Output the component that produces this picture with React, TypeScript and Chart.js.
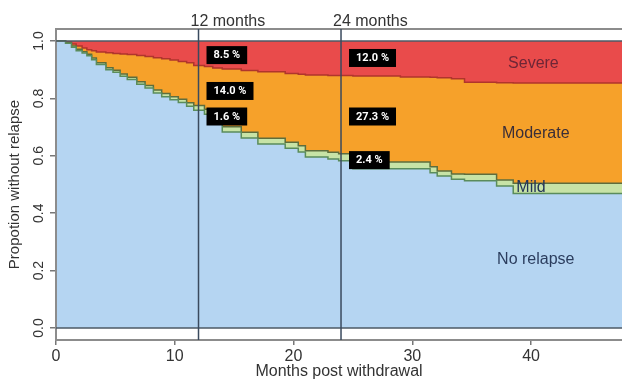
import React, { useEffect, useRef } from "react";
import { Chart, registerables } from "chart.js";

Chart.register(...registerables);

// Step times (months post withdrawal)
const months = [0, 0.8, 1.3, 1.7, 2.2, 2.6, 3.0, 3.4, 4.2, 4.8, 5.4, 6.0, 6.8, 7.5, 8.2, 8.9, 9.6, 10.3, 11.0, 11.6, 12.5, 13.2, 14.0, 15.6, 17.0, 19.3, 20.4, 21.0, 22.9, 23.8, 25.0, 29.0, 31.5, 32.1, 33.3, 34.4, 37.1, 38.5, 47.66];

// Upper boundary of each stacked band (proportion)
const noRelapseCurve = [1, 0.992, 0.978, 0.966, 0.958, 0.949, 0.935, 0.918, 0.9, 0.891, 0.877, 0.866, 0.849, 0.836, 0.819, 0.806, 0.795, 0.786, 0.773, 0.759, 0.745, 0.716, 0.683, 0.662, 0.641, 0.626, 0.613, 0.596, 0.589, 0.583, 0.555, 0.555, 0.541, 0.53, 0.518, 0.513, 0.495, 0.469, 0.469];
const mildUpper = [1, 0.995, 0.983, 0.971, 0.963, 0.954, 0.941, 0.924, 0.907, 0.898, 0.885, 0.874, 0.858, 0.845, 0.829, 0.817, 0.806, 0.797, 0.785, 0.775, 0.762, 0.734, 0.701, 0.682, 0.661, 0.647, 0.635, 0.618, 0.612, 0.607, 0.578, 0.578, 0.562, 0.547, 0.537, 0.536, 0.516, 0.504, 0.504];
const moderateUpper = [1, 0.997, 0.99, 0.983, 0.976, 0.97, 0.966, 0.962, 0.959, 0.957, 0.955, 0.953, 0.95, 0.946, 0.942, 0.938, 0.934, 0.929, 0.924, 0.915, 0.911, 0.906, 0.903, 0.897, 0.893, 0.887, 0.884, 0.882, 0.88, 0.88, 0.878, 0.875, 0.874, 0.872, 0.869, 0.856, 0.855, 0.854, 0.854];
const severeUpperMonths = [0, 47.66];
const severeUpper = [1, 1];

const xTicks = [0, 10, 20, 30, 40];
const yTicks = [0, 0.2, 0.4, 0.6, 0.8, 1.0];
const yTickLabels = ["0.0", "0.2", "0.4", "0.6", "0.8", "1.0"];

const markerMonths = [12, 24];
const markerLabels = ["12 months", "24 months"];

const pctLabels = ["8.5 %", "14.0 %", "1.6 %", "12.0 %", "27.3 %", "2.4 %"];
const pctMonths = [12, 12, 12, 24, 24, 24];
const pctLevels = [0.951, 0.826, 0.737, 0.941, 0.737, 0.585];

const regionNames = ["Severe", "Moderate", "Mild", "No relapse"];
const regionMonths = [40.2, 40.4, 40.0, 40.4];
const regionLevels = [0.923, 0.679, 0.488, 0.24];
const regionColors = ["#6e2636", "#3a2e38", "#24355a", "#2b3d5e"];

const FONT = "'Liberation Sans', Arial, sans-serif";

const pts = (xs: number[], ys: number[]) => xs.map((x, i) => ({ x, y: ys[i] }));

const overlay = {
  id: "overlay",
  afterDatasetsDraw(chart: any) {
    const { ctx, chartArea: a, scales } = chart;
    const xs = scales.x;
    const ys = scales.y;
    ctx.save();
    // frame
    ctx.strokeStyle = "#8c8c8c";
    ctx.lineWidth = 2;
    ctx.beginPath();
    ctx.moveTo(a.right + 2, a.top);
    ctx.lineTo(a.left, a.top);
    ctx.lineTo(a.left, a.bottom);
    ctx.lineTo(a.right + 2, a.bottom);
    ctx.stroke();
    // horizontal lines at 0 and 1
    ctx.strokeStyle = "#4d5864";
    ctx.lineWidth = 1.5;
    [0, 1].forEach((v) => {
      const y = ys.getPixelForValue(v);
      ctx.beginPath();
      ctx.moveTo(a.left, y);
      ctx.lineTo(a.right, y);
      ctx.stroke();
    });
    // vertical marker lines
    ctx.strokeStyle = "#3a4a5e";
    ctx.lineWidth = 1.5;
    markerMonths.forEach((m, i) => {
      const x = xs.getPixelForValue(m);
      ctx.beginPath();
      ctx.moveTo(x, a.top);
      ctx.lineTo(x, a.bottom);
      ctx.stroke();
      ctx.fillStyle = "#333";
      ctx.font = `16px ${FONT}`;
      ctx.textAlign = "left";
      ctx.textBaseline = "middle";
      ctx.fillText(markerLabels[i], x - 8, a.top - 7);
    });
    // percentage boxes
    ctx.font = `bold 11px Roboto, ${FONT}`;
    pctLabels.forEach((t, i) => {
      const x = xs.getPixelForValue(pctMonths[i]) + 8;
      const y = ys.getPixelForValue(pctLevels[i]);
      const w = ctx.measureText(t).width + 14;
      ctx.fillStyle = "#000";
      ctx.fillRect(x, y - 9, w, 18);
      ctx.fillStyle = "#fff";
      ctx.textAlign = "left";
      ctx.textBaseline = "middle";
      ctx.fillText(t, x + 7, y + 0.5);
    });
    // region labels
    ctx.font = `16px ${FONT}`;
    regionNames.forEach((t, i) => {
      ctx.fillStyle = regionColors[i];
      ctx.textAlign = "center";
      ctx.textBaseline = "middle";
      ctx.fillText(t, xs.getPixelForValue(regionMonths[i]), ys.getPixelForValue(regionLevels[i]));
    });
    // y tick labels (rotated)
    ctx.fillStyle = "#333";
    ctx.font = `14px ${FONT}`;
    yTicks.forEach((v, i) => {
      ctx.save();
      ctx.translate(a.left - 17, ys.getPixelForValue(v));
      ctx.rotate(-Math.PI / 2);
      ctx.textAlign = "center";
      ctx.textBaseline = "middle";
      ctx.fillText(yTickLabels[i], 0, 0);
      ctx.restore();
    });
    // y title
    ctx.save();
    ctx.font = `15px ${FONT}`;
    ctx.translate(15, (a.top + a.bottom) / 2);
    ctx.rotate(-Math.PI / 2);
    ctx.textAlign = "center";
    ctx.textBaseline = "middle";
    ctx.fillText("Propotion without relapse", 0, 0);
    ctx.restore();
    // x title
    ctx.font = `16px ${FONT}`;
    ctx.textAlign = "center";
    ctx.textBaseline = "middle";
    ctx.fillText("Months post withdrawal", (a.left + a.right) / 2, a.bottom + 32);
    ctx.restore();
  },
};

export default function App() {
  const ref = useRef<HTMLCanvasElement | null>(null);
  useEffect(() => {
    if (!ref.current) return;
    const common = { pointRadius: 0, stepped: true as const, tension: 0 };
    const chart = new Chart(ref.current, {
      type: "line",
      data: {
        datasets: [
          {
            ...common,
            label: "No relapse",
            data: pts(months, noRelapseCurve),
            borderColor: "#5a8c5c",
            borderWidth: 1.5,
            backgroundColor: "#b5d5f2",
            fill: "origin",
          },
          {
            ...common,
            label: "Mild",
            data: pts(months, mildUpper),
            borderColor: "#5e6d3c",
            borderWidth: 1.5,
            backgroundColor: "#c7e3a6",
            fill: "-1",
          },
          {
            ...common,
            label: "Moderate",
            data: pts(months, moderateUpper),
            borderColor: "#b0352c",
            borderWidth: 1.5,
            backgroundColor: "#f6a12a",
            fill: "-1",
          },
          {
            ...common,
            label: "Severe",
            data: pts(severeUpperMonths, severeUpper),
            borderColor: "rgba(0,0,0,0)",
            borderWidth: 0,
            backgroundColor: "#e94b4b",
            fill: "-1",
          },
        ],
      },
      options: {
        animation: false,
        responsive: false,
        maintainAspectRatio: false,
        layout: { padding: { top: 29, right: 0, left: 0, bottom: 0 } },
        plugins: { legend: { display: false }, tooltip: { enabled: false }, title: { display: false } },
        scales: {
          x: {
            type: "linear",
            min: 0,
            max: 47.66,
            afterBuildTicks: (s: any) => {
              s.ticks = xTicks.map((v) => ({ value: v }));
            },
            afterFit: (s: any) => {
              s.height = 39;
            },
            grid: { display: true, drawOnChartArea: false, drawTicks: true, tickLength: 5, color: "#777", lineWidth: 1.5 },
            border: { display: false },
            ticks: { color: "#333", font: { size: 16, family: FONT }, padding: 2, maxRotation: 0, autoSkip: false },
          },
          y: {
            type: "linear",
            min: -0.042,
            max: 1.042,
            afterBuildTicks: (s: any) => {
              s.ticks = yTicks.map((v) => ({ value: v }));
            },
            afterFit: (s: any) => {
              s.width = 56;
            },
            grid: { display: true, drawOnChartArea: false, drawTicks: true, tickLength: 6, color: "#777", lineWidth: 1.5 },
            border: { display: false },
            ticks: { display: false },
          },
        },
      },
      plugins: [overlay],
    });
    return () => chart.destroy();
  }, []);
  return (
    <div style={{ position: "fixed", left: 0, top: 0, width: 622, height: 379, background: "#fff" }}>
      <canvas ref={ref} width={622} height={379} style={{ display: "block" }} />
    </div>
  );
}
